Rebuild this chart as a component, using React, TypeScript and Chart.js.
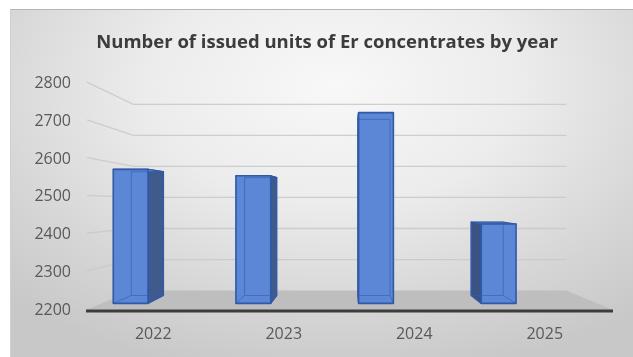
import React, { useEffect, useRef } from "react";
import { Chart, registerables } from "chart.js";

Chart.register(...registerables);

const categories: string[] = ["2022", "2023", "2024", "2025"];
const issuedUnits: number[] = [2578, 2560, 2738, 2424];
const yMin = 2200;
const yMax = 2800;
const yStep = 100;
const titleText = "Number of issued units of Er concentrates by year";

// 3D look (style constants)
const WALL_DEPTH = 0.177;
const BAR_FRONT = 0.06;
const BAR_BACK = 0.132;
const VY_FRAC = 0.515;
const BAR_SHIFT_FRAC = 0.28;
const TITLE_LEFT_INSET = 44;

const threeD = {
  id: "threeD",
  afterLayout(chart: any) {
    const tb = chart.titleBlock;
    if (tb) tb.left = TITLE_LEFT_INSET;
  },
  beforeDatasetsDraw(chart: any) {
    const { ctx, chartArea: a, scales } = chart;
    const ys = scales.y;
    const vx = (a.left + a.right) / 2;
    const vy = a.top + (a.bottom - a.top) * VY_FRAC;
    const P = (X: number, Y: number, t: number) => [X + (vx - X) * t, Y + (vy - Y) * t];
    const L = a.left - 1;
    const R = a.right + 3;
    ctx.save();
    ctx.strokeStyle = "rgba(200,200,200,0.85)";
    ctx.lineWidth = 1.3;
    ys.ticks.forEach((tk: any) => {
      if (tk.value === yMin) return;
      const Y = ys.getPixelForValue(tk.value);
      const p0 = P(L, Y, 0);
      const p1 = P(L, Y, WALL_DEPTH);
      const p2 = P(R, Y, WALL_DEPTH);
      ctx.beginPath();
      ctx.moveTo(p0[0], p0[1] - 1.5);
      ctx.lineTo(p1[0], p1[1]);
      ctx.lineTo(p2[0], p2[1]);
      ctx.stroke();
    });
    const B = ys.getPixelForValue(yMin);
    const f0 = P(L - 1, B, 0);
    const f1 = P(L - 1, B, WALL_DEPTH);
    const f2 = P(R, B, WALL_DEPTH);
    const f3 = P(R, B, 0);
    ctx.fillStyle = "#bebebe";
    ctx.beginPath();
    ctx.moveTo(f0[0], f0[1]);
    ctx.lineTo(f1[0], f1[1]);
    ctx.lineTo(f2[0], f2[1]);
    ctx.lineTo(f3[0], f3[1]);
    ctx.closePath();
    ctx.fill();
    ctx.strokeStyle = "#3d3d3d";
    ctx.lineWidth = 3;
    ctx.beginPath();
    ctx.moveTo(f0[0], B + 1);
    ctx.lineTo(f3[0], B + 1);
    ctx.stroke();
    ctx.restore();
  },
  afterDatasetsDraw(chart: any) {
    const { ctx, chartArea: a, scales } = chart;
    const ys = scales.y;
    const vx = (a.left + a.right) / 2;
    const vy = a.top + (a.bottom - a.top) * VY_FRAC;
    const P = (X: number, Y: number, t: number) => [X + (vx - X) * t, Y + (vy - Y) * t];
    const catW = (a.right - a.left) / categories.length;
    const meta = chart.getDatasetMeta(0);
    const poly = (pts: number[][], fill?: string, stroke?: string, lw?: number) => {
      ctx.beginPath();
      ctx.moveTo(pts[0][0], pts[0][1]);
      for (let i = 1; i < pts.length; i++) ctx.lineTo(pts[i][0], pts[i][1]);
      ctx.closePath();
      if (fill) {
        ctx.fillStyle = fill;
        ctx.fill();
      }
      if (stroke) {
        ctx.strokeStyle = stroke;
        ctx.lineWidth = lw || 1;
        ctx.stroke();
      }
    };
    const line = (p: number[], q: number[], stroke: string, lw: number) => {
      ctx.beginPath();
      ctx.moveTo(p[0], p[1]);
      ctx.lineTo(q[0], q[1]);
      ctx.strokeStyle = stroke;
      ctx.lineWidth = lw;
      ctx.stroke();
    };
    const Bs = ys.getPixelForValue(yMin);
    ctx.save();
    ctx.lineJoin = "round";
    meta.data.forEach((el: any) => {
      const w = el.width;
      const cx = el.x - catW * BAR_SHIFT_FRAC;
      const X0 = cx - w / 2;
      const X1 = cx + w / 2;
      const T = el.y;
      const ftl = P(X0, T, BAR_FRONT), ftr = P(X1, T, BAR_FRONT);
      const fbl = P(X0, Bs, BAR_FRONT), fbr = P(X1, Bs, BAR_FRONT);
      const btl = P(X0, T, BAR_BACK), btr = P(X1, T, BAR_BACK);
      const bbl = P(X0, Bs, BAR_BACK), bbr = P(X1, Bs, BAR_BACK);
      const edge = "#3059a6";
      if (btr[0] > ftr[0] + 0.5) poly([ftr, btr, bbr, fbr], "#405a8c", edge, 1.3);
      if (btl[0] < ftl[0] - 0.5) poly([ftl, btl, bbl, fbl], "#3a5284", edge, 1.3);
      poly([ftl, ftr, btr, btl], "#6f98e0", edge, 1.2);
      poly([ftl, ftr, fbr, fbl], "#5b87d6");
      const inner = "rgba(52,94,172,0.6)";
      line(btl, bbl, inner, 1);
      line(btr, bbr, inner, 1);
      line(bbl, bbr, inner, 1);
      line(fbl, bbl, inner, 1);
      line(fbr, bbr, inner, 1);
      line(btl, btr, inner, 1);
      poly([ftl, ftr, fbr, fbl], undefined, edge, 1.6);
    });
    ctx.restore();
  },
};

export default function App() {
  const canvasRef = useRef<HTMLCanvasElement | null>(null);

  useEffect(() => {
    if (!canvasRef.current) return;
    const font = "'Open Sans', 'Noto Sans', sans-serif";
    const chart = new Chart(canvasRef.current, {
      type: "bar",
      data: {
        labels: categories,
        datasets: [
          {
            label: "Issued units",
            data: issuedUnits,
            backgroundColor: "rgba(0,0,0,0)",
            borderWidth: 0,
            barThickness: 37,
          },
        ],
      },
      options: {
        animation: false,
        responsive: false,
        maintainAspectRatio: false,
        layout: { padding: { left: 0, right: 23, top: 0, bottom: 13 } },
        plugins: {
          legend: { display: false },
          tooltip: { enabled: false },
          title: {
            display: true,
            text: titleText,
            color: "#3c3c3c",
            font: { family: font, size: 18.5, weight: "bold" },
            padding: { top: 31.5, bottom: 30 },
          },
        },
        scales: {
          x: {
            grid: { display: false, drawTicks: false },
            border: { display: false },
            ticks: {
              color: "#595959",
              font: { family: font, size: 16 },
              padding: 15,
            },
            afterFit: (scale: any) => {
              scale.height = 34;
            },
          },
          y: {
            min: yMin,
            max: yMax,
            grid: { display: false, drawTicks: false },
            border: { display: false },
            ticks: {
              stepSize: yStep,
              color: "#595959",
              font: { family: font, size: 16 },
              padding: 17,
              callback: (v: any) => String(v),
            },
            afterFit: (scale: any) => {
              scale.width = 88;
            },
          },
        },
      },
      plugins: [threeD],
    });
    return () => chart.destroy();
  }, []);

  return (
    <div style={{ position: "absolute", left: 0, top: 0, width: 633, height: 357, background: "#ffffff", overflow: "hidden" }}>
      <div
        style={{
          position: "absolute",
          left: 10,
          top: 9,
          width: 623,
          height: 348,
          boxSizing: "border-box",
          borderTop: "1.5px solid #b5b5b5",
          borderLeft: "1px solid #d0d0d0",
          background:
            "radial-gradient(ellipse 75% 85% at 52% 22%, #f8f8f8 0%, #ececec 40%, #d6d6d6 75%, #c8c8c8 100%)",
        }}
      />
      <canvas ref={canvasRef} width={633} height={357} style={{ position: "absolute", left: 0, top: 0, width: 633, height: 357 }} />
    </div>
  );
}
